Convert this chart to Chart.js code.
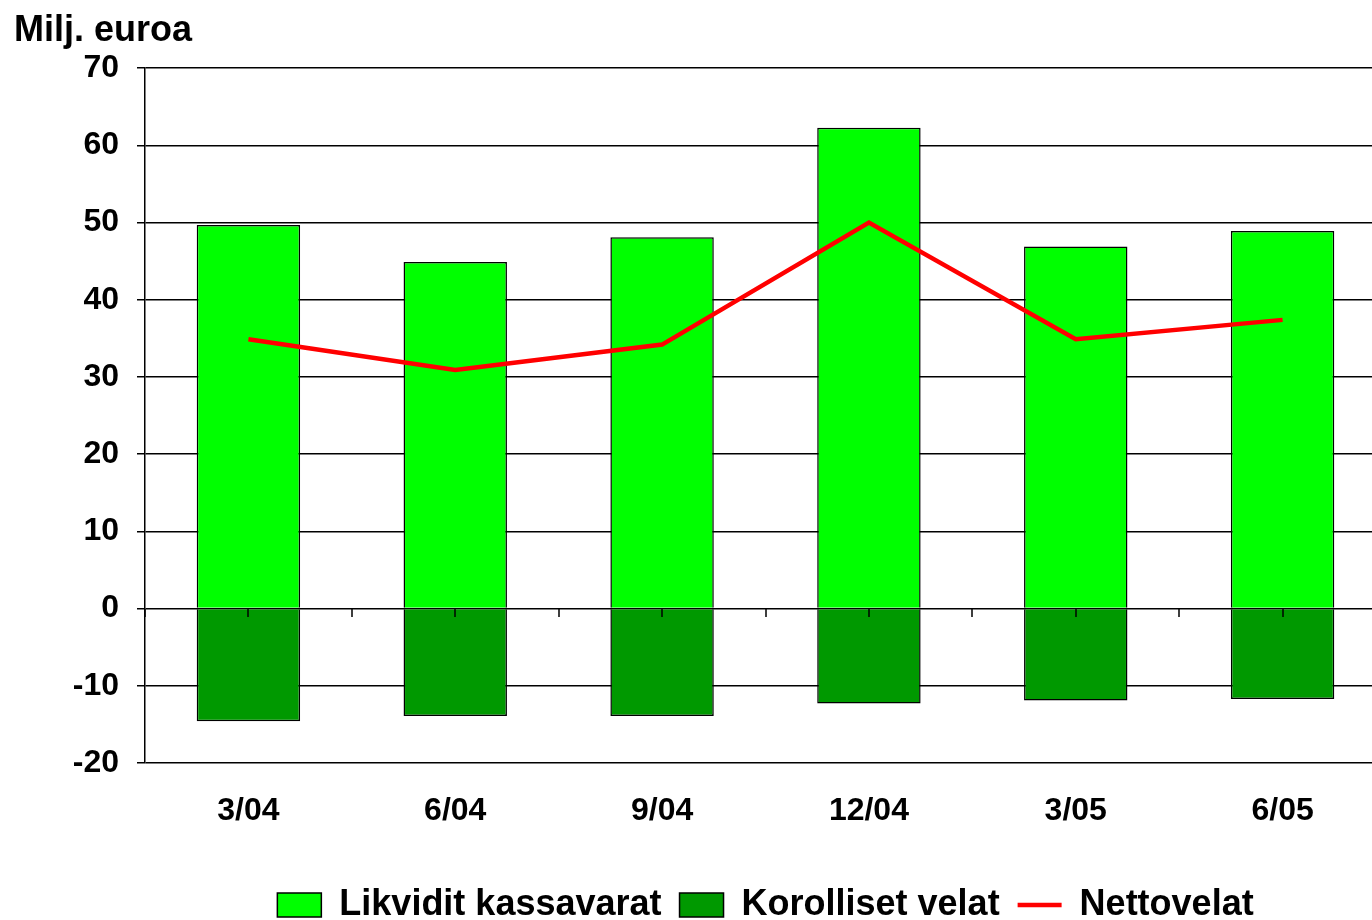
<!DOCTYPE html>
<html>
<head>
<meta charset="utf-8">
<script src="https://cdn.jsdelivr.net/npm/chart.js@4"></script>
<style>
  body { margin: 0; overflow: hidden; background: #fff; }
  #wrap { width: 1390px; height: 933px; }
</style>
</head>
<body>
<div id="wrap"><canvas id="myChart" width="1390" height="933"></canvas></div>
<script>
const labels = ["3/04", "6/04", "9/04", "12/04", "3/05", "6/05"];
const kassavarat = [49.7, 44.9, 48.1, 62.3, 46.9, 48.9];
const velat = [-14.6, -13.9, -13.9, -12.3, -11.9, -11.7];
const nettovelat = [34.9, 30.9, 34.2, 50.0, 34.9, 37.4];
const yTicks = [-20, -10, 0, 10, 20, 30, 40, 50, 60, 70];

const font = "'Liberation Sans', Arial, sans-serif";

// small tick marks hanging under the zero line (category centres and borders)
const zeroTicks = {
  id: "zeroTicks",
  afterDatasetsDraw(chart) {
    const { ctx, scales: { x, y } } = chart;
    const y0 = Math.round(y.getPixelForValue(0));
    const step = x.getPixelForValue(1) - x.getPixelForValue(0);
    ctx.save();
    ctx.strokeStyle = "#000";
    ctx.lineWidth = 1.5;
    ctx.beginPath();
    labels.forEach((_, i) => {
      const c = x.getPixelForValue(i);
      [c - step / 2, c, c + step / 2].forEach((px) => {
        ctx.moveTo(Math.round(px), y0);
        ctx.lineTo(Math.round(px), y0 + 8);
      });
    });
    ctx.stroke();
    ctx.restore();
  },
};

const config = {
  type: "bar",
  data: {
    labels,
    datasets: [
      {
        label: "Likvidit kassavarat",
        data: kassavarat,
        backgroundColor: "#00ff00",
        borderColor: "#000",
        borderWidth: 1.5,
        pointStyle: "rect",
        barPercentage: 0.5,
        categoryPercentage: 1,
        stack: "a",
      },
      {
        label: "Korolliset velat",
        data: velat,
        backgroundColor: "#009900",
        borderColor: "#000",
        borderWidth: 1.5,
        pointStyle: "rect",
        barPercentage: 0.5,
        categoryPercentage: 1,
        stack: "a",
      },
      {
        type: "line",
        label: "Nettovelat",
        data: nettovelat,
        borderColor: "#ff0000",
        backgroundColor: "#ff0000",
        borderWidth: 4.5,
        pointRadius: 0,
        pointStyle: "line",
        tension: 0,
        order: -1,
        stack: "net",
      },
    ],
  },
  options: {
    responsive: false,
    animation: false,
    layout: { padding: { left: 14, right: 4, top: 0, bottom: 0 } },
    scales: {
      x: {
        stacked: true,
        afterFit: (scale) => { scale.height = 106; },
        grid: { display: false },
        border: { display: false },
        ticks: {
          color: "#000",
          padding: 21,
          font: { family: font, size: 32, weight: "bold" },
        },
      },
      y: {
        stacked: true,
        min: -20,
        max: 70,
        afterFit: (scale) => { scale.width = 131; },
        afterBuildTicks: (scale) => {
          scale.ticks = yTicks.map((v) => ({ value: v }));
        },
        grid: { color: "#000", lineWidth: 1.5, tickLength: 8 },
        border: { color: "#000", width: 1.5 },
        ticks: {
          color: "#000",
          padding: 18,
          font: { family: font, size: 32, weight: "bold" },
        },
      },
    },
    plugins: {
      tooltip: { enabled: false },
      title: {
        display: true,
        text: "Milj. euroa",
        align: "start",
        color: "#000",
        font: { family: font, size: 36, weight: "bold" },
        padding: { top: 9, bottom: 16 },
      },
      legend: {
        position: "bottom",
        fullSize: false,
        labels: {
          color: "#000",
          usePointStyle: true,
          pointStyleWidth: 44,
          boxHeight: 24,
          padding: 18,
          sort: (a, b) => a.datasetIndex - b.datasetIndex,
          font: { family: font, size: 36, weight: "bold" },
        },
      },
    },
  },
  plugins: [zeroTicks],
};

new Chart(document.getElementById("myChart"), config);
</script>
</body>
</html>
